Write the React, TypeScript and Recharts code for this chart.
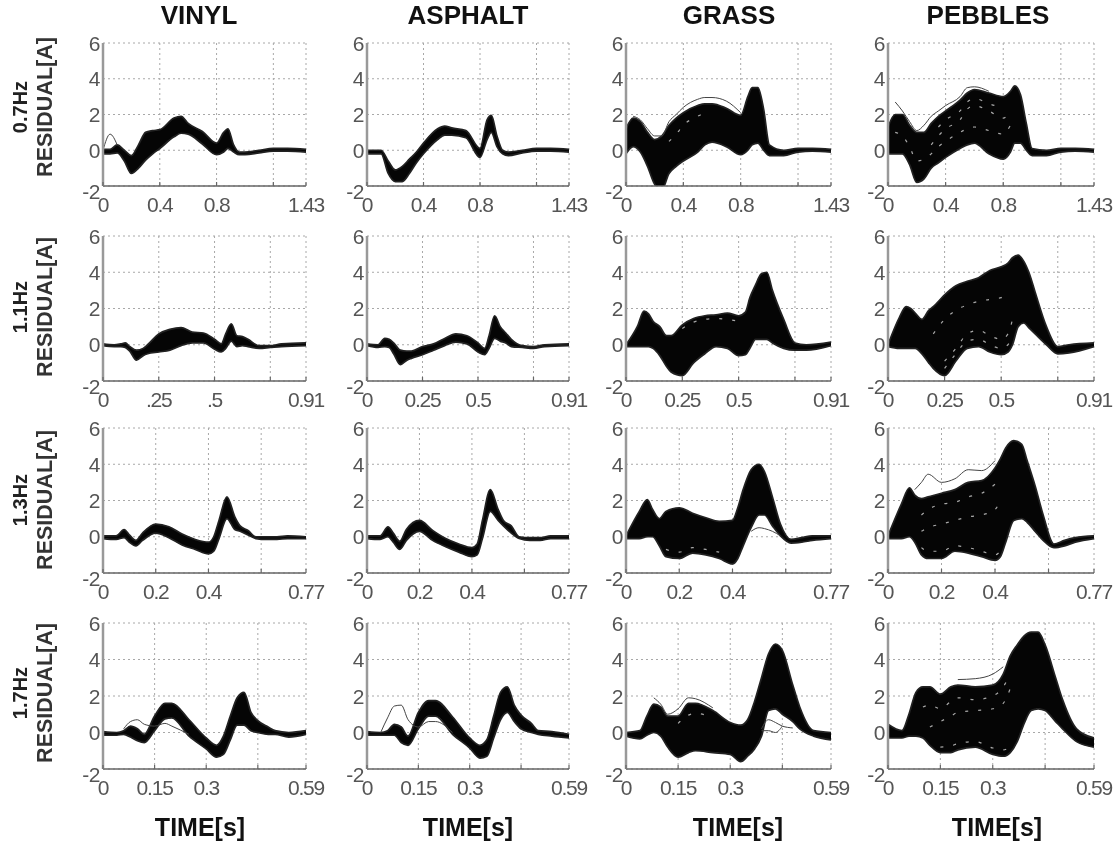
import React from 'react';
import { ComposedChart, Area, Line, XAxis, YAxis, CartesianGrid } from 'recharts';

const surfaces = ['VINYL', 'ASPHALT', 'GRASS', 'PEBBLES'];
const gaits = ['0.7Hz', '1.1Hz', '1.3Hz', '1.7Hz'];
const yTicks = [-2, 0, 2, 4, 6];

const xTicks07 = [0, 0.4, 0.8, 1.2, 1.43];
const xTicks11 = [0, 0.25, 0.5, 0.75, 0.91];
const xTicks13 = [0, 0.2, 0.4, 0.6, 0.77];
const xTicks17 = [0, 0.15, 0.3, 0.45, 0.59];

const time07 = [0, .05, .1, .15, .2, .25, .3, .35, .4, .5, .55, .6, .7, .8, .85, .88, .92, .96, 1.0, 1.1, 1.2, 1.3, 1.43];
const time11 = [0, .05, .08, .1, .12, .15, .18, .2, .25, .3, .35, .4, .45, .5, .53, .55, .575, .6, .625, .65, .7, .75, .8, .91];
const time13 = [0, .05, .08, .1, .125, .15, .2, .25, .3, .35, .4, .42, .44, .47, .5, .52, .55, .58, .62, .66, .7, .77];
const time17 = [0, .04, .06, .08, .1, .12, .15, .18, .2, .25, .3, .33, .35, .37, .39, .41, .43, .45, .48, .5, .54, .59];

// 0.7Hz row
const vinyl07Upper = [.05, .05, .3, 0, -.3, .3, 1, 1.1, 1.15, 1.8, 1.9, 1.5, 1.05, .4, 1, 1.2, .3, -.1, -.1, 0, .1, .1, .05];
const vinyl07Lower = [-.2, -.2, -.15, -.6, -1.3, -1, -.55, -.2, .1, .75, .95, .9, .35, -.25, -.1, .1, -.1, -.25, -.25, -.15, -.05, -.05, -.1];
const vinyl07Outer = [0, .9, .3];
const asphalt07Upper = [0, 0, 0, -.6, -1.1, -.9, -.5, -.1, .4, 1.2, 1.35, 1.25, 1.1, .1, 1.7, 1.95, .8, 0, -.1, 0, .1, .1, .05];
const asphalt07Lower = [-.2, -.2, -.2, -1.3, -1.75, -1.75, -1.3, -.7, -.2, .6, .85, .85, .7, -.4, .6, 1, .2, -.2, -.3, -.15, -.05, -.05, -.1];
const grass07Upper = [1.2, 1.8, 1.6, 1, .6, .8, 1.4, 1.8, 2.1, 2.5, 2.6, 2.6, 2.35, 1.95, 3, 3.5, 3.5, 2.3, .3, 0, .1, .1, .05];
const grass07Lower = [-.2, .2, -.1, -.9, -1.9, -2.2, -1.3, -.9, -.6, -.1, .3, .45, .2, -.25, 0, .3, .4, 0, -.3, -.3, -.1, -.05, -.1];
const grass07Outer = [null, 1.9, 1.7, 1.2, .8, .8, 1.6, 2, 2.4, 2.85, 2.95, 2.95, 2.75, 2.1];
const grass07Gap = [null, null, null, null, null, null, .5, .9, 1.4, 1.9, 2.1];
const pebbles07Upper = [1.3, 2, 2, 1.4, 1, 1, 1.5, 1.9, 2.2, 2.8, 3.2, 3.4, 3.2, 3, 3.3, 3.6, 3.1, 1.5, .1, 0, .1, .1, .05];
const pebbles07Lower = [-.2, -.2, -.2, -.8, -1.8, -1.6, -1, -.7, -.4, .1, .3, .4, -.2, -.5, -.1, .4, .4, 0, -.3, -.3, -.1, -.05, -.1];
const pebbles07Outer = [null, 2.7, 2.2, 1.6, 1.1, 1.4, 1.9, 2.2, 2.5, 3, 3.5, 3.55, 3.3];
const pebbles07GapA = [null, null, null, null, null, null, .3, .8, 1.2, 1.7, 2.3, 2.5, 2.2, 1.8, 2.2];
const pebbles07GapB = [null, 1, .8, .2, -.6, -.5, -.2, .2, .5, 1, 1.2, 1.3, 1.1, .9, 1.4];
const pebbles07GapC = [null, null, null, null, null, null, null, 1.3, 1.7, 2.2, 2.7, 2.9, 2.6, 2.4];

// 1.1Hz row
const vinyl11Upper = [.05, 0, .05, .1, -.1, -.3, -.2, 0, .6, .85, .95, .7, .65, .3, .05, .6, 1.15, .5, .45, .3, -.05, -.05, .05, .1];
const vinyl11Lower = [-.05, -.1, -.1, -.15, -.35, -.85, -.6, -.5, -.4, -.3, -.05, .1, .1, -.25, -.4, -.2, .2, -.1, -.05, -.1, -.2, -.15, -.1, -.05];
const asphalt11Upper = [.05, 0, .35, .3, .1, -.3, -.35, -.35, -.1, .05, .35, .6, .5, .1, -.2, .5, 1.6, 1, .65, .3, -.05, -.1, 0, .05];
const asphalt11Lower = [-.05, -.15, -.1, -.15, -.5, -1.1, -.85, -.75, -.55, -.3, -.05, .15, .05, -.4, -.55, -.2, .35, .2, .1, -.1, -.15, -.2, -.1, -.05];
const grass11Upper = [0, 1, 1.85, 1.7, 1.3, 1, .5, .5, 1.1, 1.45, 1.6, 1.65, 1.75, 1.6, 1.8, 2.6, 3.3, 3.9, 4, 3, 1.4, .1, 0, .15];
const grass11Lower = [-.1, -.1, -.1, -.1, -.2, -.6, -1.2, -1.5, -1.7, -1, -.5, -.1, -.2, -.6, -.55, -.2, .3, .3, .3, .1, -.2, -.3, -.3, -.05];
const grass11Gap = [null, null, null, null, null, null, null, null, .9, 1.25, 1.4, 1.45, 1.4, 1.3];
const pebbles11Upper = [0, 1.5, 2.1, 2, 1.75, 1.4, 1.9, 2.1, 2.75, 3.25, 3.5, 3.7, 4.1, 4.3, 4.5, 4.8, 4.95, 4.6, 3.9, 2.9, 1, -.1, 0, .1];
const pebbles11Lower = [-.1, -.2, -.2, -.2, -.2, -.5, -1, -1.3, -1.7, -.9, -.2, -.1, -.4, -.55, -.4, 0, 1, 1.2, .9, .6, 0, -.5, -.45, -.1];
const pebbles11GapA = [null, null, null, null, null, null, null, null, -1.3, -.5, .2, .3, 0, -.2, 0, .4];
const pebbles11GapB = [null, null, null, null, null, null, null, null, -.9, -.2, .6, .8, .5, .3, .6, 1.4];
const pebbles11GapC = [null, null, null, null, null, null, null, .6, 1.4, 1.9, 2.2, 2.4, 2.5, 2.6, 2.9];

// 1.3Hz row
const vinyl13Upper = [.05, .05, .4, .1, -.2, .2, .7, .55, .15, -.15, -.3, 0, .9, 2.2, 1.1, .6, .35, 0, 0, 0, .05, 0];
const vinyl13Lower = [-.1, -.15, -.05, -.3, -.5, -.2, .2, -.05, -.45, -.7, -.95, -.8, -.1, 1, .4, .3, .1, -.1, -.15, -.15, -.1, -.1];
const asphalt13Upper = [.05, .05, .55, .2, -.25, .4, .9, .35, -.1, -.4, -.6, -.4, .9, 2.6, 1.5, .9, .6, 0, -.05, -.05, .05, .05];
const asphalt13Lower = [-.1, -.15, 0, -.3, -.7, -.2, .3, -.2, -.55, -.85, -1.1, -1, -.1, 1.4, .9, .6, .2, -.1, -.2, -.2, -.1, -.1];
const grass13Upper = [.05, 1.4, 2.05, 1.5, 1, 1.4, 1.6, 1.3, 1.05, .85, .9, 1.6, 2.6, 3.7, 4, 3.6, 2.2, .7, -.15, -.05, .05, .05];
const grass13Lower = [-.1, -.1, 0, 0, -.5, -1.1, -1.2, -.9, -1, -1.2, -1.5, -1.2, -.5, .5, 1.2, 1.2, .6, .05, -.35, -.3, -.2, -.1];
const grass13Outer = [null, null, null, null, null, null, null, null, null, null, null, null, null, .3, .5, .45, .3, .05];
const grass13Gap = [null, null, null, null, null, -.7, -.85, -.6, -.7, -.85];
const pebbles13Upper = [.05, 1.8, 2.7, 2.3, 2.1, 2.2, 2.4, 2.6, 3, 3.1, 3.8, 4.3, 4.9, 5.3, 5.1, 4.2, 2.8, 1.2, -.4, -.2, -.05, .05];
const pebbles13Lower = [-.1, -.1, 0, -.3, -1, -1.2, -1.2, -.8, -.9, -1.1, -1.3, -1.1, -.3, .9, 1, .8, .3, -.2, -.6, -.5, -.3, -.1];
const pebbles13Outer = [null, null, null, 2.6, 3, 3.45, 3, 3.2, 3.7, 3.65, 4.2];
const pebbles13GapA = [null, null, null, null, -.6, -.8, -.8, -.5, -.6, -.8, -1, -.8];
const pebbles13GapB = [null, null, null, null, .3, .5, .7, .9, 1.1, 1.2, 1.5, 2];
const pebbles13GapC = [null, null, null, null, 1.2, 1.5, 1.8, 1.9, 2.2, 2.4, 2.9, 3.2];

// 1.7Hz row
const vinyl17Upper = [.05, 0, .1, .35, .2, -.1, .9, 1.6, 1.6, .7, -.3, -.7, -.2, .9, 1.9, 2.2, 1.1, .65, .3, .1, 0, .1];
const vinyl17Lower = [-.15, -.15, -.1, -.25, -.45, -.55, .1, .75, .8, -.2, -.9, -1.35, -1.2, -.4, .4, .4, .1, 0, -.1, -.1, -.25, -.1];
const vinyl17Outer = [null, null, .2, .6, .7, .45, .35, .5, .35, -.1];
const asphalt17Upper = [.05, 0, .1, .45, .3, -.2, 1.1, 1.75, 1.75, .85, -.3, -.7, -.4, .9, 2.2, 2.5, 1.5, .95, .5, .1, .05, -.1];
const asphalt17Lower = [-.15, -.15, -.15, -.15, -.55, -.7, .2, .9, .9, -.1, -.85, -1.4, -1.3, -.3, .7, 1.1, .6, .2, 0, -.1, -.2, -.3];
const asphalt17Outer = [null, 0, .8, 1.45, 1.5, .7, .3, .6, .6, 0];
const grass17Upper = [0, .1, .9, 1.55, 1.4, .9, .9, 1.6, 1.6, 1.2, .55, .4, .7, 1.7, 3, 4.3, 4.85, 4.5, 2.6, 1.4, .1, 0];
const grass17Lower = [-.2, -.35, -.15, 0, -.2, -.8, -1.35, -1.1, -1, -1.1, -1.2, -1.6, -1.3, -.9, -.2, 1.2, 1.3, 1, .6, .2, -.2, -.4];
const grass17OuterA = [null, null, null, 1.9, 1.55, 1, 1.3, 1.9, 1.85, 1.35];
const grass17OuterB = [null, null, null, null, null, null, null, null, null, null, null, null, null, null, .2, .7, .55, .35, .25];
const grass17OuterC = [null, null, null, null, null, null, null, null, null, null, null, null, null, null, .1, .1, 0, .35];
const grass17Gap = [null, null, null, null, null, null, .5, .95, 1.05, .8];
const pebbles17Upper = [.45, .1, 1, 2.2, 2.5, 2.5, 2.1, 2.5, 2.6, 2.5, 2.6, 3.2, 4.2, 4.8, 5.3, 5.5, 5.5, 4.8, 3, 1.8, .2, -.3];
const pebbles17Lower = [-.3, -.3, -.2, -.2, -.3, -.7, -1.1, -1.1, -.95, -.8, -1.2, -1.3, -1.1, -.5, .5, 1.2, 1.3, 1.2, .6, .2, -.5, -.8];
const pebbles17Outer = [null, null, null, null, null, null, null, null, 2.9, 2.95, 3.2, 3.6];
const pebbles17GapA = [null, null, null, null, null, null, -.8, -.75, -.6, -.5, -.85, -.95, -.8];
const pebbles17GapB = [null, null, null, null, null, .3, .6, .9, 1.1, 1.2, 1.3, 1.6, 2.4];
const pebbles17GapC = [null, null, null, null, 1.4, 1.5, 1.3, 1.7, 1.9, 1.8, 2, 2.5, 3.2];

const rowLayout = [
  { top: 43, height: 143, time: time07, xTicks: xTicks07 },
  { top: 236, height: 145, time: time11, xTicks: xTicks11 },
  { top: 428, height: 145, time: time13, xTicks: xTicks13 },
  { top: 623, height: 146, time: time17, xTicks: xTicks17 },
];
const colLayout = [
  { left: 103, width: 203 },
  { left: 367, width: 202 },
  { left: 626, width: 205 },
  { left: 888, width: 206 },
];

const panelData = [
  [
    { upper: vinyl07Upper, lower: vinyl07Lower, outer: [vinyl07Outer], gaps: [] },
    { upper: asphalt07Upper, lower: asphalt07Lower, outer: [], gaps: [] },
    { upper: grass07Upper, lower: grass07Lower, outer: [grass07Outer], gaps: [grass07Gap] },
    { upper: pebbles07Upper, lower: pebbles07Lower, outer: [pebbles07Outer], gaps: [pebbles07GapA, pebbles07GapB, pebbles07GapC] },
  ],
  [
    { upper: vinyl11Upper, lower: vinyl11Lower, outer: [], gaps: [], shortLabels: true },
    { upper: asphalt11Upper, lower: asphalt11Lower, outer: [], gaps: [] },
    { upper: grass11Upper, lower: grass11Lower, outer: [], gaps: [grass11Gap] },
    { upper: pebbles11Upper, lower: pebbles11Lower, outer: [], gaps: [pebbles11GapA, pebbles11GapB, pebbles11GapC] },
  ],
  [
    { upper: vinyl13Upper, lower: vinyl13Lower, outer: [], gaps: [] },
    { upper: asphalt13Upper, lower: asphalt13Lower, outer: [], gaps: [] },
    { upper: grass13Upper, lower: grass13Lower, outer: [grass13Outer], gaps: [grass13Gap] },
    { upper: pebbles13Upper, lower: pebbles13Lower, outer: [pebbles13Outer], gaps: [pebbles13GapA, pebbles13GapB, pebbles13GapC] },
  ],
  [
    { upper: vinyl17Upper, lower: vinyl17Lower, outer: [vinyl17Outer], gaps: [] },
    { upper: asphalt17Upper, lower: asphalt17Lower, outer: [asphalt17Outer], gaps: [] },
    { upper: grass17Upper, lower: grass17Lower, outer: [grass17OuterA, grass17OuterB, grass17OuterC], gaps: [grass17Gap] },
    { upper: pebbles17Upper, lower: pebbles17Lower, outer: [pebbles17Outer], gaps: [pebbles17GapA, pebbles17GapB, pebbles17GapC] },
  ],
];

const FONT = '"Liberation Sans", Arial, sans-serif';
const titleCenters = [199, 468, 729, 988];
const timeCenters = [200, 468, 738, 997];
const rowCenters = [107, 307, 500, 693];

const YTick = ({ x, y, payload }: any) => (
  <text x={x - 3} y={payload.value === -2 ? y + 5 : y} textAnchor="end" dominantBaseline="central"
    fontFamily={FONT} fontSize={21} fill="#555" letterSpacing={-0.5}>
    {payload.value}
  </text>
);

const makeXTick = (xTicks: number[], shortLabels?: boolean) => ({ x, y, payload }: any) => {
  const mark = <line x1={x} x2={x} y1={y} y2={y - 4} stroke="#666" strokeWidth={1.2} />;
  // the fourth grid line has no label in the reference
  if (payload.value === xTicks[3]) return <g>{mark}</g>;
  let label = String(payload.value);
  if (shortLabels && payload.value > 0 && payload.value < 0.9) label = label.replace(/^0/, '');
  return (
    <g>
      {mark}
      <text x={x} y={y + 18} textAnchor="middle" dominantBaseline="central"
        fontFamily={FONT} fontSize={21} fill="#555" letterSpacing={-1.2}>
        {label}
      </text>
    </g>
  );
};

function Panel({ row, col }: { row: number; col: number }) {
  const { top, height, time, xTicks } = rowLayout[row];
  const { left, width } = colLayout[col];
  const p: any = panelData[row][col];

  const data = time.map((t, i) => {
    const r: any = { t, band: [p.lower[i], p.upper[i]], hi: p.upper[i], lo: p.lower[i] };
    p.outer.forEach((o: any[], k: number) => { r[`o${k}`] = o[i] ?? null; });
    p.gaps.forEach((g: any[], k: number) => { r[`g${k}`] = g[i] ?? null; });
    return r;
  });

  return (
    <div style={{ position: 'absolute', left: left - 40, top: top - 10 }}>
      <ComposedChart width={width + 75} height={height + 50} data={data}
        margin={{ top: 10, right: 35, left: 0, bottom: 0 }}>
        <CartesianGrid stroke="#a8a8a8" strokeDasharray="2 3" />
        <XAxis dataKey="t" type="number" domain={[0, xTicks[4]]} ticks={xTicks} height={40} interval={0}
          allowDataOverflow tickSize={0} tickMargin={0} stroke="#666" strokeWidth={1.5}
          tick={makeXTick(xTicks, p.shortLabels)} />
        <YAxis type="number" domain={[-2, 6]} ticks={yTicks} width={40} interval={0}
          allowDataOverflow tickSize={0} tickMargin={0} stroke="#999" strokeWidth={2.5}
          tick={<YTick />} />
        <Area dataKey="band" type="monotone" fill="#050505" fillOpacity={1} stroke="none"
          isAnimationActive={false} legendType="none" dot={false} activeDot={false} />
        {p.gaps.map((_: any, k: number) => (
          <Line key={`g${k}`} dataKey={`g${k}`} type="monotone" stroke="#fff" strokeOpacity={0.65} strokeWidth={1.2}
            strokeDasharray="3 10" dot={false} activeDot={false} isAnimationActive={false} legendType="none" />
        ))}
        <Line dataKey="hi" type="monotone" stroke="#222" strokeWidth={1.7} dot={false} activeDot={false}
          isAnimationActive={false} legendType="none" />
        <Line dataKey="lo" type="monotone" stroke="#222" strokeWidth={1.7} dot={false} activeDot={false}
          isAnimationActive={false} legendType="none" />
        {p.outer.map((_: any, k: number) => (
          <Line key={`o${k}`} dataKey={`o${k}`} type="monotone" stroke="#444" strokeWidth={1} dot={false} activeDot={false}
            isAnimationActive={false} legendType="none" />
        ))}
      </ComposedChart>
    </div>
  );
}

const centered = (x: number, y: number): React.CSSProperties => ({
  position: 'absolute', left: x, top: y, transform: 'translate(-50%, -50%)', whiteSpace: 'nowrap', lineHeight: 1,
});
const rotated = (x: number, y: number): React.CSSProperties => ({
  position: 'absolute', left: x, top: y, transform: 'translate(-50%, -50%) rotate(-90deg)', whiteSpace: 'nowrap',
});

export default function App() {
  return (
    <div style={{ position: 'absolute', left: 0, top: 0, width: 1119, height: 847, background: '#fff', overflow: 'hidden', fontFamily: FONT, filter: 'blur(0.7px)' }}>
      {surfaces.map((s, i) => (
        <div key={s} style={{ ...centered(titleCenters[i], 15), fontSize: 26, fontWeight: 'bold', color: '#111' }}>{s}</div>
      ))}
      {gaits.map((g, i) => (
        <React.Fragment key={g}>
          <div style={{ ...rotated(20, rowCenters[i]), fontSize: 20, fontWeight: 'bold', color: '#222' }}>{g}</div>
          <div style={{ ...rotated(45, rowCenters[i]), fontSize: 21.5, fontWeight: 'bold', color: '#333' }}>RESIDUAL[A]</div>
        </React.Fragment>
      ))}
      {rowLayout.map((_, r) => colLayout.map((__, c) => <Panel key={`${r}-${c}`} row={r} col={c} />))}
      {timeCenters.map((x, i) => (
        <div key={i} style={{ ...centered(x, 827), fontSize: 25, fontWeight: 'bold', color: '#111' }}>TIME[s]</div>
      ))}
    </div>
  );
}
